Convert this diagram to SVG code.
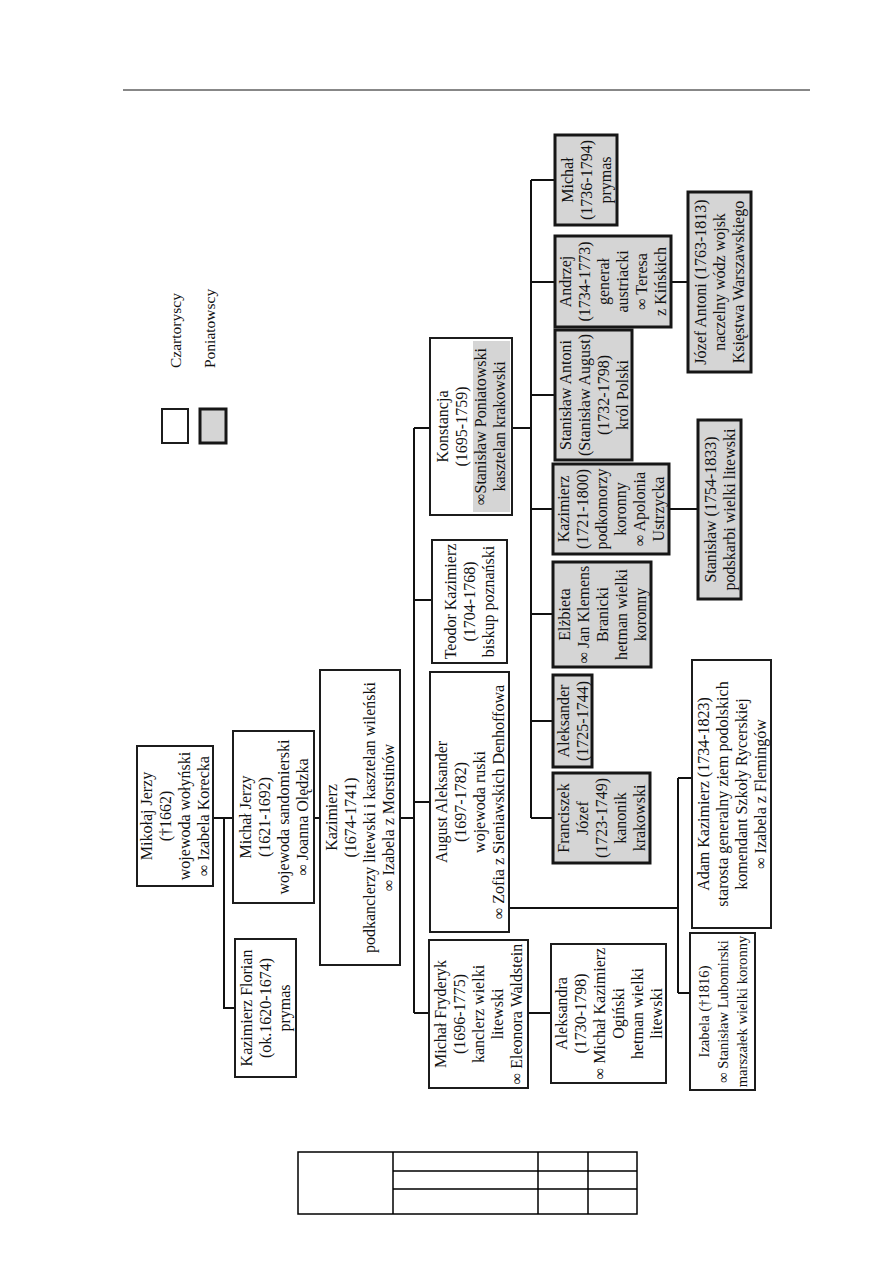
<svg xmlns="http://www.w3.org/2000/svg" width="893" height="1263" viewBox="0 0 893 1263">
<style>
.bw{fill:#fff;stroke:#1c1c1c;stroke-width:2}
.bg{fill:#d5d5d5;stroke:#161616;stroke-width:3}
.t{font-family:"Liberation Serif","Times New Roman",serif;font-size:16px;text-anchor:middle;fill:#111}
.lg{font-family:"Liberation Serif","Times New Roman",serif;font-size:15.5px;text-anchor:start;fill:#111}
.c{fill:none;stroke:#111;stroke-width:2}
.tb{fill:none;stroke:#000;stroke-width:1.5}
</style>
<rect x="0" y="0" width="893" height="1263" fill="#fff"/>
<line x1="123" y1="90" x2="810" y2="90" stroke="#111" stroke-width="1"/>

<g id="legend">
<rect class="bw" x="162" y="409" width="26" height="34"/>
<rect class="bg" x="200" y="409" width="26" height="34"/>
<text class="lg" transform="translate(181,368) rotate(-90)">Czartoryscy</text>
<text class="lg" transform="translate(215,368) rotate(-90)">Poniatowscy</text>
</g>

<g id="connectors">
<path class="c" d="M213 818H233M224 818V1008H235M314 818H320M400 818H414"/>
<path class="c" d="M414 428V1013M414 428H430M414 600H432M414 802H430M414 1013H429"/>
<path class="c" d="M528 1013H551"/>
<path class="c" d="M509 908H678M678 778V993M678 778H692M678 993H690"/>
<path class="c" d="M512 428H531M531 180V818M531 180H555M531 282H555M531 395H555M531 509H553M531 614H553M531 721H553M531 818H553"/>
<path class="c" d="M671 282H688M669 509H698"/>
</g>

<g id="mikolaj">
<rect class="bw" x="137" y="746" width="76" height="140"/>
<text class="t" transform="translate(175,816) rotate(-90)"><tspan x="0" y="-22.9">Mikołaj Jerzy</tspan><tspan x="0" y="-3.9">(†1662)</tspan><tspan x="0" y="15.1">wojewoda wołyński</tspan><tspan x="0" y="34.1">∞ Izabela Korecka</tspan></text>
</g>

<g id="michal_jerzy">
<rect class="bw" x="233" y="731" width="81" height="172"/>
<text class="t" transform="translate(273.5,817) rotate(-90)"><tspan x="0" y="-22.9">Michał Jerzy</tspan><tspan x="0" y="-3.9">(1621-1692)</tspan><tspan x="0" y="15.1">wojewoda sandomierski</tspan><tspan x="0" y="34.1">∞ Joanna Olędzka</tspan></text>
</g>

<g id="kazimierz_florian">
<rect class="bw" x="235" y="939" width="61" height="138"/>
<text class="t" transform="translate(265.5,1008) rotate(-90)"><tspan x="0" y="-13.4">Kazimierz Florian</tspan><tspan x="0" y="5.6">(ok.1620-1674)</tspan><tspan x="0" y="24.6">prymas</tspan></text>
</g>

<g id="kazimierz">
<rect class="bw" x="320" y="670" width="80" height="295"/>
<text class="t" transform="translate(360,817.5) rotate(-90)"><tspan x="0" y="-22.9">Kazimierz</tspan><tspan x="0" y="-3.9">(1674-1741)</tspan><tspan x="0" y="15.1">podkanclerzy litewski i kasztelan wileński</tspan><tspan x="0" y="34.1">∞ Izabela z Morstinów</tspan></text>
</g>

<g id="michal_fryderyk">
<rect class="bw" x="429" y="940" width="99" height="148"/>
<text class="t" transform="translate(478.5,1014) rotate(-90)"><tspan x="0" y="-32.4">Michał Fryderyk</tspan><tspan x="0" y="-13.4">(1696-1775)</tspan><tspan x="0" y="5.6">kanclerz wielki</tspan><tspan x="0" y="24.6">litewski</tspan><tspan x="0" y="43.6">∞ Eleonora Waldstein</tspan></text>
</g>

<g id="august_aleksander">
<rect class="bw" x="430" y="672" width="79" height="260"/>
<text class="t" transform="translate(469.5,802) rotate(-90)"><tspan x="0" y="-22.9">August Aleksander</tspan><tspan x="0" y="-3.9">(1697-1782)</tspan><tspan x="0" y="15.1">wojewoda ruski</tspan><tspan x="0" y="34.1">∞ Zofia z Sieniawskich Denhoffowa</tspan></text>
</g>

<g id="teodor">
<rect class="bw" x="432" y="540" width="75" height="123"/>
<text class="t" transform="translate(469.5,601.5) rotate(-90)"><tspan x="0" y="-13.4">Teodor Kazimierz</tspan><tspan x="0" y="5.6">(1704-1768)</tspan><tspan x="0" y="24.6">biskup poznański</tspan></text>
</g>

<g id="konstancja">
<rect class="bw" x="430" y="338" width="82" height="177"/>
<rect x="473" y="341" width="37" height="171" fill="#d5d5d5"/>
<text class="t" transform="translate(471,426.5) rotate(-90)"><tspan x="0" y="-22.9">Konstancja</tspan><tspan x="0" y="-3.9">(1695-1759)</tspan><tspan x="0" y="15.1">∞Stanisław Poniatowski</tspan><tspan x="0" y="34.1">kasztelan krakowski</tspan></text>
</g>

<g id="aleksandra">
<rect class="bw" x="551" y="944" width="115" height="139"/>
<text class="t" transform="translate(608.5,1013.5) rotate(-90)"><tspan x="0" y="-41.9">Aleksandra</tspan><tspan x="0" y="-22.9">(1730-1798)</tspan><tspan x="0" y="-3.9">∞ Michał Kazimierz</tspan><tspan x="0" y="15.1">Ogiński</tspan><tspan x="0" y="34.1">hetman wielki</tspan><tspan x="0" y="53.1">litewski</tspan></text>
</g>

<g id="izabela">
<rect class="bw" x="690" y="933" width="65" height="157"/>
<text class="t" style="font-size:14.6px" transform="translate(722.5,1011.5) rotate(-90)"><tspan x="0" y="-13.9">Izabela (†1816)</tspan><tspan x="0" y="5.1">∞ Stanisław Lubomirski</tspan><tspan x="0" y="24.1">marszałek wielki koronny</tspan></text>
</g>

<g id="adam_kazimierz">
<rect class="bw" x="692" y="660" width="79" height="268"/>
<text class="t" transform="translate(731.5,794) rotate(-90)"><tspan x="0" y="-22.9">Adam Kazimierz (1734-1823)</tspan><tspan x="0" y="-3.9">starosta generalny ziem podolskich</tspan><tspan x="0" y="15.1">komendant Szkoły Rycerskiej</tspan><tspan x="0" y="34.1">∞ Izabela z Flemingów</tspan></text>
</g>

<g id="michal_prymas">
<rect class="bg" x="555" y="135" width="62" height="90"/>
<text class="t" transform="translate(586,180) rotate(-90)"><tspan x="0" y="-13.4">Michał</tspan><tspan x="0" y="5.6">(1736-1794)</tspan><tspan x="0" y="24.6">prymas</tspan></text>
</g>

<g id="andrzej">
<rect class="bg" x="555" y="236" width="116" height="91"/>
<text class="t" transform="translate(613,281.5) rotate(-90)"><tspan x="0" y="-41.9">Andrzej</tspan><tspan x="0" y="-22.9">(1734-1773)</tspan><tspan x="0" y="-3.9">generał</tspan><tspan x="0" y="15.1">austriacki</tspan><tspan x="0" y="34.1">∞ Teresa</tspan><tspan x="0" y="53.1">z Kińskich</tspan></text>
</g>

<g id="jozef_antoni">
<rect class="bg" x="688" y="192" width="63" height="180"/>
<text class="t" transform="translate(719.5,282) rotate(-90)"><tspan x="0" y="-13.4">Józef Antoni (1763-1813)</tspan><tspan x="0" y="5.6">naczelny wódz wojsk</tspan><tspan x="0" y="24.6">Księstwa Warszawskiego</tspan></text>
</g>

<g id="stanislaw_antoni">
<rect class="bg" x="555" y="330" width="77" height="130"/>
<text class="t" transform="translate(593.5,395) rotate(-90)"><tspan x="0" y="-22.9">Stanisław Antoni</tspan><tspan x="0" y="-3.9">(Stanisław August)</tspan><tspan x="0" y="15.1">(1732-1798)</tspan><tspan x="0" y="34.1">król Polski</tspan></text>
</g>

<g id="kazimierz_poniatowski">
<rect class="bg" x="553" y="464" width="116" height="90"/>
<text class="t" transform="translate(611,509) rotate(-90)"><tspan x="0" y="-41.9">Kazimierz</tspan><tspan x="0" y="-22.9">(1721-1800)</tspan><tspan x="0" y="-3.9">podkomorzy</tspan><tspan x="0" y="15.1">koronny</tspan><tspan x="0" y="34.1">∞ Apolonia</tspan><tspan x="0" y="53.1">Ustrzycka</tspan></text>
</g>

<g id="stanislaw">
<rect class="bg" x="698" y="420" width="43" height="179"/>
<text class="t" transform="translate(719.5,509.5) rotate(-90)"><tspan x="0" y="-3.9">Stanisław (1754-1833)</tspan><tspan x="0" y="15.1">podskarbi wielki litewski</tspan></text>
</g>

<g id="elzbieta">
<rect class="bg" x="553" y="562" width="98" height="105"/>
<text class="t" transform="translate(602,614.5) rotate(-90)"><tspan x="0" y="-32.4">Elżbieta</tspan><tspan x="0" y="-13.4">∞ Jan Klemens</tspan><tspan x="0" y="5.6">Branicki</tspan><tspan x="0" y="24.6">hetman wielki</tspan><tspan x="0" y="43.6">koronny</tspan></text>
</g>

<g id="aleksander">
<rect class="bg" x="553" y="675" width="39" height="92"/>
<text class="t" transform="translate(572.5,721) rotate(-90)"><tspan x="0" y="-3.9">Aleksander</tspan><tspan x="0" y="15.1">(1725-1744)</tspan></text>
</g>

<g id="franciszek">
<rect class="bg" x="553" y="773" width="97" height="90"/>
<text class="t" transform="translate(601.5,818) rotate(-90)"><tspan x="0" y="-32.4">Franciszek</tspan><tspan x="0" y="-13.4">Józef</tspan><tspan x="0" y="5.6">(1723-1749)</tspan><tspan x="0" y="24.6">kanonik</tspan><tspan x="0" y="43.6">krakowski</tspan></text>
</g>

<g id="table">
<rect class="tb" x="298" y="1152" width="339" height="62"/>
<path class="tb" d="M393 1152V1214M538 1152V1214M588 1152V1214M393 1171H637M393 1189H637"/>
</g>
</svg>
